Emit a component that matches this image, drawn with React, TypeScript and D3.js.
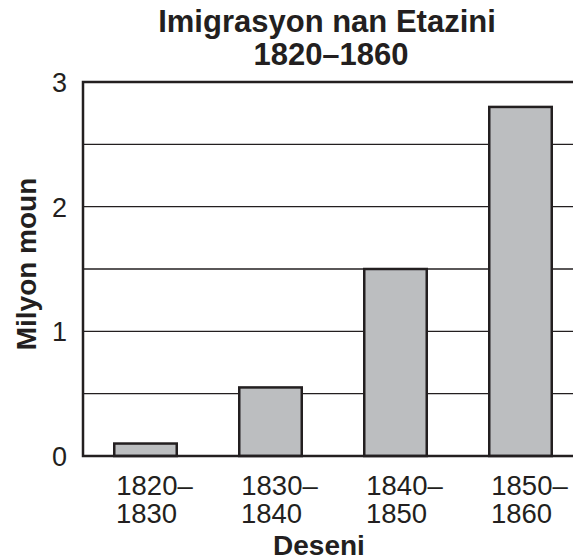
import React, { useRef, useEffect } from 'react';
import * as d3 from 'd3';

const decadesTop = ['1820–', '1830–', '1840–', '1850–'];
const decadesBottom = ['1830', '1840', '1850', '1860'];
const immigrants = [0.1, 0.55, 1.5, 2.8];
const yTicks = [0, 1, 2, 3];
const gridValues = [0.5, 1, 1.5, 2, 2.5];

const INK = '#231f20';

const App = () => {
  const ref = useRef<SVGSVGElement | null>(null);

  useEffect(() => {
    if (!ref.current) return;
    const svg = d3.select(ref.current);
    svg.selectAll('*').remove();

    const left = 83;
    const top = 82;
    const bottom = 456;
    const font = 'Liberation Sans, Arial, sans-serif';

    const x = d3.scaleBand<number>()
      .domain(d3.range(immigrants.length))
      .range([left, left + 500])
      .padding(0.5)
      .paddingOuter(0.25);

    const y = d3.scaleLinear().domain([0, 3]).range([bottom, top]);

    // gridlines
    svg.append('g')
      .selectAll('line')
      .data(gridValues)
      .enter()
      .append('line')
      .attr('x1', left)
      .attr('x2', 573)
      .attr('y1', d => y(d))
      .attr('y2', d => y(d))
      .attr('stroke', INK)
      .attr('stroke-width', 1.3);

    // bars
    svg.append('g')
      .selectAll('rect')
      .data(immigrants)
      .enter()
      .append('rect')
      .attr('x', (_, i) => x(i)!)
      .attr('y', d => y(d))
      .attr('width', x.bandwidth())
      .attr('height', d => bottom - y(d))
      .attr('fill', '#bcbec0')
      .attr('stroke', INK)
      .attr('stroke-width', 2.5);

    // frame: top, left, bottom
    svg.append('path')
      .attr('d', `M573,${top}H${left}V${bottom}H573`)
      .attr('fill', 'none')
      .attr('stroke', INK)
      .attr('stroke-width', 2.5);

    // y tick labels
    svg.append('g')
      .selectAll('text')
      .data(yTicks)
      .enter()
      .append('text')
      .attr('x', 67)
      .attr('y', d => y(d) + 10)
      .attr('text-anchor', 'end')
      .attr('font-family', font)
      .attr('font-size', 27)
      .attr('fill', INK)
      .text(d => d);

    // x tick labels
    const xl = svg.append('g')
      .selectAll('text')
      .data(decadesTop)
      .enter()
      .append('text')
      .attr('font-family', font)
      .attr('font-size', 27.5)
      .attr('fill', INK)
      .attr('text-anchor', 'middle');
    xl.append('tspan')
      .attr('x', (_, i) => x(i)! + x.bandwidth() / 2 + 9)
      .attr('y', 495)
      .text(d => d);
    xl.append('tspan')
      .attr('x', (_, i) => x(i)! + x.bandwidth() / 2 + 1)
      .attr('y', 523)
      .text((_, i) => decadesBottom[i]);

    // title
    const title = svg.append('text')
      .attr('font-family', font)
      .attr('font-size', 31)
      .attr('font-weight', 'bold')
      .attr('fill', INK)
      .attr('text-anchor', 'middle');
    title.append('tspan').attr('x', 327).attr('y', 32).text('Imigrasyon nan Etazini');
    title.append('tspan').attr('x', 331).attr('y', 65).text('1820–1860');

    // axis titles
    svg.append('text')
      .attr('x', 319)
      .attr('y', 555)
      .attr('text-anchor', 'middle')
      .attr('font-family', font)
      .attr('font-size', 28)
      .attr('font-weight', 'bold')
      .attr('fill', INK)
      .text('Deseni');

    svg.append('text')
      .attr('transform', 'translate(36,264) rotate(-90)')
      .attr('text-anchor', 'middle')
      .attr('font-family', font)
      .attr('font-size', 28)
      .attr('font-weight', 'bold')
      .attr('fill', INK)
      .text('Milyon moun');
  }, []);

  return (
    <svg
      ref={ref}
      width={573}
      height={560}
      style={{ position: 'absolute', left: 0, top: 0, background: '#fff' }}
    />
  );
};

export default App;
